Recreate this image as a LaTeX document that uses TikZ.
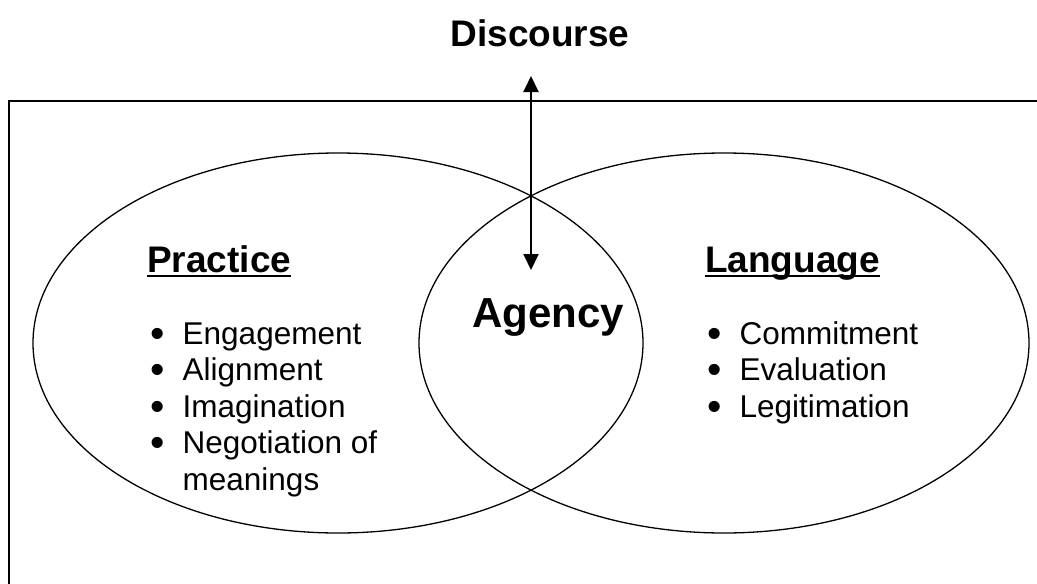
\documentclass[tikz,border=0pt]{standalone}
\usepackage{fontspec}
\setmainfont{Liberation Sans}
\usetikzlibrary{shapes.geometric,arrows.meta}

\newlength{\bulw}
\setlength{\bulw}{32.5pt}
\newcommand{\bul}{\makebox[\bulw][l]{\raisebox{-3pt}{\scalebox{1.3}{\textbullet}}}}
\newcommand{\ulhead}[1]{\setbox0\hbox{#1}\rlap{\rule[-5.3pt]{\wd0}{2pt}}\box0}

\begin{document}
\begin{tikzpicture}[x=1pt,y=-1pt]
        \tikzstyle{circ}=[ellipse,draw=black,line width=1.3pt,minimum width=610pt,minimum height=380pt,inner sep=0pt]
        \tikzstyle{heading}=[anchor=base west,inner sep=0pt,font=\fontsize{37}{44}\selectfont\bfseries]
        \tikzstyle{items}=[anchor=base west,inner sep=0pt,align=left,font=\fontsize{31.5}{36.5}\selectfont]
        \tikzstyle{link}=[draw=black,line width=2pt,{Triangle[length=16pt,width=15pt]}-{Triangle[length=16pt,width=15pt]}]

       \useasboundingbox (0,0) rectangle (1037,584);
       \begin{scope}
         \clip (0,0) rectangle (1037,584);
         \draw[line width=1.6pt] (9,600) -- (9,101) -- (1050,101);

         \node [circ] (practice) at (338,343) {};
         \node [circ] (language) at (724,343) {};

         \node [heading, anchor=base] (discourse) at (540,46) {Discourse};
         \node [heading] (practicehead) at (147,272) {\ulhead{Practice}};
         \node [heading] (languagehead) at (705,272) {\ulhead{Language}};
         \node [heading, font=\fontsize{42}{48}\selectfont\bfseries] (agency) at (472,327) {Agency};

         \node [items] (practicelist) at (150,490) {\bul Engagement\\ \bul Alignment\\ \bul Imagination\\ \bul Negotiation of\\ \makebox[\bulw]{}meanings};
         \node [items] (languagelist) at (707,417) {\bul Commitment\\ \bul Evaluation\\ \bul Legitimation};

         \coordinate (dtop) at (531,76);
         \coordinate (dbot) at (531,270);
         \path[link] (dtop) -- (dbot);
       \end{scope}
\end{tikzpicture}
\end{document}
